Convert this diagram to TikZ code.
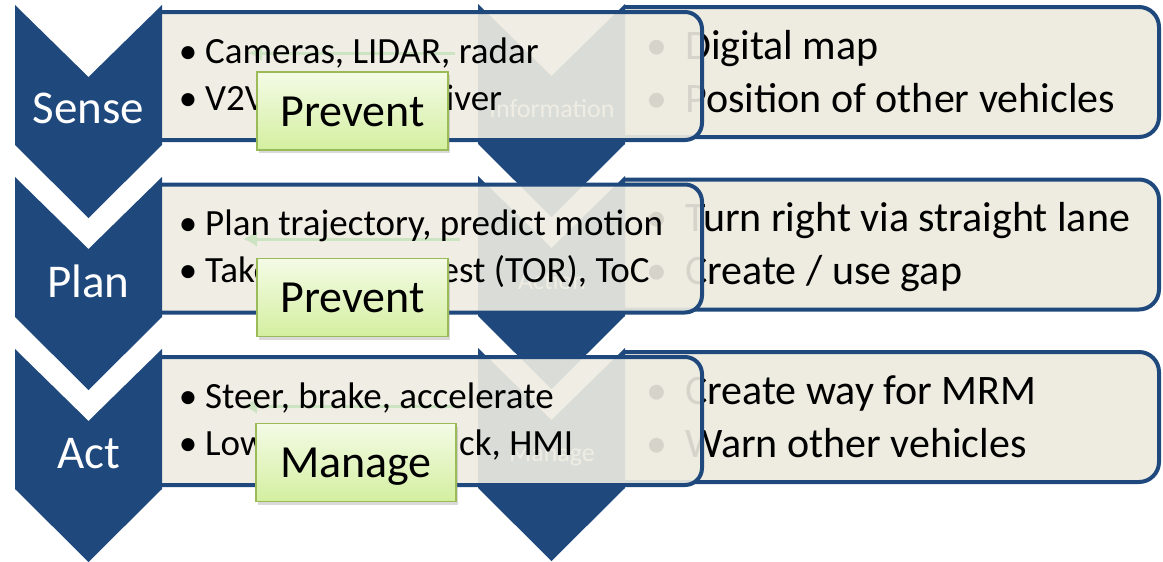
\documentclass[tikz,border=0pt]{standalone}
\usepackage{fontspec}
\setmainfont{Carlito}
\usetikzlibrary{arrows.meta,shadows}

\definecolor{navy}{HTML}{1F497D}
\definecolor{paper}{HTML}{EEECE1}
\definecolor{olive}{HTML}{9BBB59}
\definecolor{limetop}{HTML}{F4FBE6}
\definecolor{limebot}{HTML}{D4EFA0}
\definecolor{mint}{HTML}{CDE4C2}

\tikzset{
  rbox/.style={fill=paper, draw=navy, line width=4pt, rounded corners=20pt},
  lbox/.style={fill=paper, fill opacity=0.9, draw=navy, line width=4pt, rounded corners=17pt},
  chlabel/.style={anchor=base, inner sep=0pt, text=white, font=\fontsize{47}{56}\selectfont},
  chsmall/.style={anchor=base, inner sep=0pt, text=white, font=\fontsize{26}{31}\selectfont},
  ltext/.style={anchor=base west, inner sep=0pt, font=\fontsize{37}{44}\selectfont},
  rtext/.style={anchor=base west, inner sep=0pt, font=\fontsize{42}{50}\selectfont},
  ldot/.style={anchor=base, inner sep=0pt, font=\fontsize{37}{44}\selectfont},
  rdot/.style={anchor=base, inner sep=0pt, font=\fontsize{42}{50}\selectfont},
  tag/.style={draw=olive, line width=1.5pt, top color=limetop, bottom color=limebot,
    minimum width=191pt, minimum height=78pt, inner sep=0pt, text height=30pt, text depth=0pt,
    font=\fontsize{46}{55}\selectfont,
    drop shadow={shadow xshift=2pt, shadow yshift=-3pt, opacity=0.3}},
  ghost/.style={draw=mint, line width=3pt, -{Latex[length=14pt,width=16pt]}}
}

% chevron: top left corner, width 147, depth 73
\newcommand{\chevron}[2]{\fill[navy] (#1,{#2}) -- ++(73.5,72) -- ++(73.5,-72) -- ++(0,140) -- ++(-73.5,73) -- ++(-73.5,-73) -- cycle;}

\begin{document}
\begin{tikzpicture}[x=1pt,y=-1pt]
\useasboundingbox (0,0) rectangle (1163,562);

% back list: boxes, text, chevrons
\foreach \t in {0,172.5,345}{
  \path[rbox] (624,{7+\t}) -- (1159,{7+\t}) -- (1159,{137+\t}) -- (624,{137+\t});
}
\node[rdot] at (657,59) {\textbullet};
\node[rtext] (map) at (685,59) {Digital map};
\node[rdot] at (657,112) {\textbullet};
\node[rtext] (pos) at (685,112) {Position of other vehicles};
\node[rdot] at (657,231.5) {\textbullet};
\node[rtext] (turn) at (685,231.5) {Turn right via straight lane};
\node[rdot] at (657,284.5) {\textbullet};
\node[rtext] (gap) at (685,284.5) {Create / use gap};
\node[rdot] at (657,404) {\textbullet};
\node[rtext] (way) at (685,404) {Create way for MRM};
\node[rdot] at (657,457) {\textbullet};
\node[rtext] (warn) at (685,457) {Warn other vehicles};

\foreach \t in {0,172,344}{ \chevron{478}{4+\t} }
\node[chsmall] (info) at (552,117) {Information};
\node[chsmall] (action) at (552,289) {Action};
\node[chsmall] (manage) at (552,461) {Manage};

% front list
\foreach \t in {0,172.5,345}{
  \path[lbox] (162,{12+\t}) -- (702,{12+\t}) -- (702,{140+\t}) -- (162,{140+\t});
}
\coordinate (g1a) at (455,53);  \coordinate (g1b) at (248,53);
\coordinate (g2a) at (460,239); \coordinate (g2b) at (243,239);
\coordinate (g3a) at (460,406); \coordinate (g3b) at (243,406);
\draw[ghost] (g1a) -- (g1b);
\draw[ghost] (g2a) -- (g2b);
\draw[ghost] (g3a) -- (g3b);

\node[ldot] at (188,63) {\textbullet};
\node[ltext] (cam) at (205,63) {Cameras, LIDAR, radar};
\node[ldot] at (188,110) {\textbullet};
\node[ltext] (vtv) at (205,110) {V2V/V2I transceiver};
\node[ldot] at (188,235.5) {\textbullet};
\node[ltext] (traj) at (205,235.5) {Plan trajectory, predict motion};
\node[ldot] at (188,282.5) {\textbullet};
\node[ltext] (tor) at (205,282.5) {Take-Over Request (TOR), ToC};
\node[ldot] at (188,408) {\textbullet};
\node[ltext] (steer) at (205,408) {Steer, brake, accelerate};
\node[ldot] at (188,455) {\textbullet};
\node[ltext] (hmi) at (205,455) {Low-level feedback, HMI};

\foreach \t in {0,172,344}{ \chevron{15}{5+\t} }
\node[chlabel] (sense) at (88.5,123) {Sense};
\node[chlabel] (plan) at (88.5,297) {Plan};
\node[chlabel] (act) at (88.5,468) {Act};

% labels on top
\node[tag] (prev1) at (352.5,111) {Prevent};
\node[tag] (prev2) at (352.5,297.5) {Prevent};
\node[tag, minimum width=200pt] (mng) at (356,462.5) {Manage};
\end{tikzpicture}
\end{document}
